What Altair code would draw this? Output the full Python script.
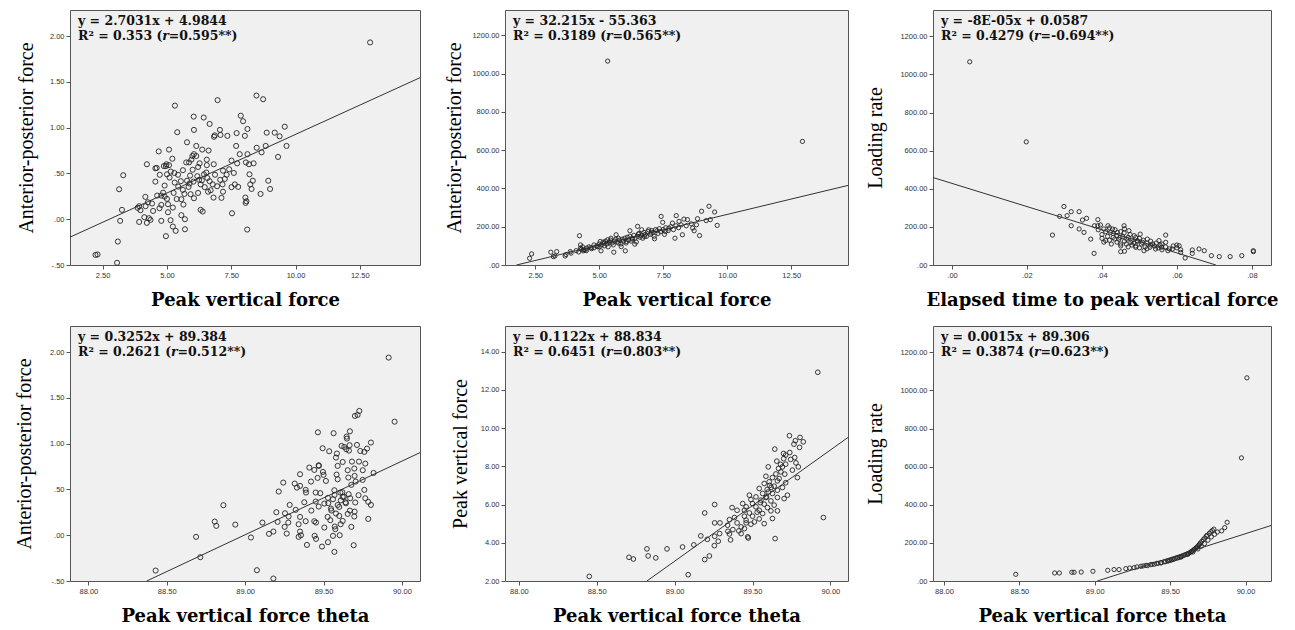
import altair as alt
import pandas as pd

# ---------------- data ----------------
p1_points = [(12.9,1.93),(8.48,1.35),(8.74,1.31),(6.97,1.30),(5.31,1.24),(7.87,1.13),(6.04,1.12),(6.43,1.11),
(7.96,1.07),(6.66,1.04),(9.58,1.01),(8.13,0.985),(7.06,0.975),(6.05,0.975),(5.40,0.95),(8.88,0.945),(9.19,0.945),
(9.38,0.905),(7.08,0.92),(6.86,0.915),(7.35,0.91),(7.71,0.94),(8.03,0.91),(6.83,0.90),(5.78,0.84),(9.65,0.80),
(8.84,0.80),(7.69,0.80),(6.14,0.80),(8.49,0.78),(6.37,0.76),(6.62,0.75),(5.08,0.76),(4.68,0.74),(8.68,0.73),
(8.13,0.71),(7.83,0.71),(6.05,0.71),(5.99,0.69),(6.14,0.69),(9.32,0.68),(5.21,0.66),(5.95,0.65),(6.55,0.65),
(7.51,0.64),(8.07,0.62),(7.73,0.61),(8.37,0.61),(6.82,0.60),(8.19,0.60),(4.22,0.60),(5.86,0.62),(6.27,0.61),
(6.55,0.59),(4.55,0.556),(4.60,0.56),(4.88,0.58),(4.96,0.58),(5.08,0.59),(6.21,0.57),(5.62,0.535),(6.00,0.54),
(7.42,0.545),(7.18,0.53),(8.21,0.49),(7.60,0.505),(6.53,0.51),(5.29,0.505),(5.00,0.49),(4.72,0.485),(3.30,0.48),
(5.43,0.485),(6.44,0.49),(6.87,0.485),(7.32,0.485),(6.18,0.47),(5.90,0.476),(5.10,0.455),(6.57,0.45),(7.07,0.43),
(8.34,0.42),(8.94,0.42),(5.54,0.415),(5.78,0.42),(6.03,0.41),(6.36,0.425),(6.66,0.415),(4.55,0.41),(5.30,0.40),
(5.88,0.39),(6.31,0.38),(6.78,0.38),(7.16,0.38),(7.64,0.38),(8.24,0.38),(4.91,0.367),(5.44,0.356),(5.84,0.353),
(6.47,0.35),(7.51,0.35),(7.77,0.353),(3.14,0.327),(8.29,0.33),(9.01,0.33),(5.62,0.32),(6.70,0.316),(7.18,0.30),
(5.26,0.287),(6.21,0.287),(8.64,0.276),(4.62,0.258),(4.78,0.258),(5.68,0.276),(5.92,0.273),(4.91,0.247),
(4.16,0.244),(7.12,0.233),(6.81,0.236),(6.05,0.229),(8.05,0.236),(5.00,0.222),(5.56,0.218),(8.09,0.196),
(8.06,0.178),(4.26,0.185),(4.42,0.171),(4.78,0.156),(5.04,0.164),(5.64,0.16),(3.92,0.142),(4.17,0.142),
(3.86,0.124),(4.71,0.12),(5.23,0.127),(3.25,0.102),(3.97,0.098),(6.31,0.102),(6.39,0.084),(4.46,0.09),
(5.04,0.076),(7.53,0.065),(5.56,0.044),(4.12,0.022),(4.30,0.011),(5.70,0.0),(3.18,-0.018),(3.92,-0.03),
(4.78,-0.018),(5.14,-0.011),(4.22,-0.04),(4.36,-0.007),(5.23,-0.08),(5.34,-0.127),(5.70,-0.11),(8.12,-0.113),
(4.96,-0.185),(3.09,-0.244),(2.22,-0.39),(2.30,-0.385),(3.06,-0.476),
(4.98,0.60),(5.15,0.52),(5.75,0.62),(6.25,0.43),(6.95,0.36),(7.25,0.44),(4.85,0.29),(5.38,0.22),(6.6,0.30)]
p1_line_x = [1.23, 14.84]
p1_line_y = [-0.196, 1.545]

p2_points = [(5.33,1066),(12.94,646),
(2.28,35),(2.36,58),(3.11,67),(3.34,70),(3.21,44),(3.27,47),(3.67,47),(3.87,70),(4.23,153),(4.27,105),
(4.27,88),(4.38,74),(4.51,88),(4.67,91),(4.80,105),(4.93,96),(5.04,123),(5.07,74),(5.20,114),(5.33,132),
(5.46,140),(5.57,67),(5.66,158),(5.76,114),(5.86,96),(6.02,74),(6.06,123),(6.20,179),(6.29,140),(6.39,109),
(6.50,202),(6.53,161),(6.66,184),(6.77,149),(6.93,184),(7.03,167),(7.16,137),(7.26,179),(7.42,254),(7.48,223),
(7.59,175),(7.72,193),(7.86,219),(7.96,140),(8.01,258),(8.12,228),(8.25,158),(8.31,240),(8.45,237),(8.65,193),
(8.71,179),(8.84,242),(8.92,154),(9.0,281),(9.18,232),(9.29,307),(9.34,237),(9.51,277),(9.61,207),
(3.7,55),(3.9,62),(4.1,75),(4.2,68),(4.3,82),(4.35,95),(4.45,78),
(4.4,80),(4.5,75),(4.6,95),(4.7,85),(4.8,90),(4.9,100),(5.0,95),(5.0,110),(5.1,105),(5.15,120),(5.2,100),
(5.25,125),(5.3,110),(5.35,95),(5.4,120),(5.45,130),(5.5,115),(5.55,105),(5.6,125),(5.65,135),(5.7,120),
(5.75,140),(5.8,130),(5.85,110),(5.9,135),(5.95,125),(6.0,140),(6.05,115),(6.1,145),(6.15,130),(6.2,150),
(6.25,125),(6.3,135),(6.35,155),(6.4,140),(6.45,120),(6.5,150),(6.55,165),(6.6,145),(6.65,155),(6.7,140),
(6.75,170),(6.8,160),(6.85,150),(6.9,175),(7.0,160),(7.05,180),(7.1,170),(7.15,150),(7.2,185),(7.3,165),
(7.35,190),(7.4,175),(7.5,185),(7.55,160),(7.6,195),(7.7,180),(7.8,200),(7.9,185),(8.0,205),(8.1,195),
(8.2,210),(8.4,205),(8.6,215),(8.8,210)]
p2_line_x = [1.77, 14.72]
p2_line_y = [0, 416]

p3_points = [(0.00472,1066),(0.0198,646),
(0.02985,307),(0.0287,255),(0.0307,259),(0.0318,280),(0.0339,280),(0.0318,206),(0.0268,157),(0.0339,189),
(0.0348,236),(0.0359,245),(0.0352,171),(0.0389,238),(0.0389,206),(0.0380,206),(0.037,136),(0.0379,61),
(0.0396,210),(0.0405,189),(0.041,128),(0.0416,206),(0.0423,171),(0.0428,189),(0.0434,136),(0.0441,171),
(0.0448,145),(0.045,110),(0.0459,206),(0.0459,168),(0.0466,136),(0.0472,180),(0.0477,119),(0.0486,154),
(0.0490,93),(0.0494,128),(0.0502,162),(0.0508,119),(0.0512,75),(0.0521,136),(0.0528,93),(0.0535,110),
(0.0543,84),(0.0552,128),(0.0559,93),(0.0570,157),(0.0570,119),(0.0576,75),(0.0588,84),(0.0600,105),
(0.0606,101),(0.061,66),(0.0622,37),(0.0641,79),(0.0641,61),(0.0659,84),(0.0673,75),(0.0692,49),
(0.0713,44),(0.0742,44),(0.0773,49),(0.0804,70),(0.0804,75),(0.045,70),(0.046,72),
(0.039,185),(0.040,160),(0.040,140),(0.0405,120),(0.041,175),(0.0415,150),(0.042,195),(0.042,130),
(0.0425,110),(0.043,165),(0.043,145),(0.0435,185),(0.044,120),(0.044,155),(0.0445,135),(0.045,175),
(0.045,100),(0.0455,150),(0.046,125),(0.046,190),(0.0465,110),(0.047,145),(0.047,95),(0.0475,160),
(0.048,130),(0.048,105),(0.0485,115),(0.049,145),(0.049,100),(0.0495,125),(0.050,90),(0.050,140),
(0.0505,110),(0.051,130),(0.0515,95),(0.052,115),(0.052,85),(0.053,105),(0.053,125),(0.054,100),
(0.0545,115),(0.055,90),(0.0555,105),(0.056,80),(0.056,110),(0.057,95),(0.058,85),(0.059,100),
(0.060,90),(0.061,80)]
p3_line_x = [-0.00508, 0.0704]
p3_line_y = [459, 0]

p4_points = [(89.915,1.94),(89.953,1.24),(89.728,1.357),(89.717,1.314),(89.70,1.303),(89.668,1.135),
(89.464,1.124),(89.564,1.114),(89.647,1.077),(89.649,1.055),(89.802,1.012),(89.615,0.975),(89.666,0.983),
(89.713,0.986),(89.632,0.964),(89.645,0.939),(89.662,0.924),(89.494,0.95),(89.536,0.917),(89.585,0.892),
(89.734,0.92),(89.777,0.946),(89.760,0.91),(89.579,0.848),(89.726,0.804),(89.681,0.804),(89.622,0.80),
(89.766,0.782),(89.590,0.757),(89.469,0.764),(89.47,0.757),(89.409,0.739),(89.441,0.713),(89.696,0.728),
(89.75,0.71),(89.654,0.71),(89.496,0.691),(89.35,0.666),(89.819,0.68),(89.583,0.662),(89.50,0.659),
(89.698,0.648),(89.749,0.604),(89.462,0.626),(89.59,0.611),(89.658,0.63),(89.515,0.593),(89.42,0.586),
(89.705,0.586),(89.243,0.575),(89.677,0.55),(89.316,0.564),(89.35,0.539),(89.33,0.52),(89.386,0.495),
(89.569,0.491),(89.76,0.495),(89.607,0.466),(89.66,0.448),(89.214,0.477),(89.388,0.466),(89.45,0.466),
(89.479,0.459),(89.723,0.437),(89.622,0.418),(89.766,0.404),(89.528,0.408),(89.56,0.393),(89.67,0.404),
(89.785,0.364),(89.45,0.368),(89.377,0.36),(89.702,0.357),(89.505,0.346),(89.643,0.349),(89.802,0.331),
(89.284,0.331),(89.469,0.313),(89.60,0.309),(89.322,0.277),(89.547,0.291),(89.668,0.269),(89.422,0.269),
(89.199,0.251),(89.254,0.24),(89.698,0.258),(89.579,0.237),(89.654,0.233),(89.696,0.204),(89.277,0.204),
(89.526,0.20),(89.60,0.211),(89.35,0.20),(89.785,0.178),(89.543,0.164),(89.622,0.156),(89.386,0.153),
(89.441,0.153),(89.452,0.138),(89.275,0.138),(89.207,0.146),(89.11,0.138),(88.806,0.149),(88.816,0.102),
(88.937,0.116),(88.861,0.328),(89.341,0.12),(89.609,0.12),(89.571,0.095),(89.677,0.091),(89.505,0.084),
(89.252,0.091),(89.575,0.066),(89.35,0.04),(89.18,0.04),(89.152,0.015),(89.265,0.018),(89.603,0.0),
(89.443,-0.007),(89.341,-0.018),(89.356,0.0),(89.56,-0.007),(88.687,-0.018),(89.037,-0.025),(89.452,-0.04),
(89.528,-0.076),(89.394,-0.106),(89.49,-0.124),(89.692,-0.109),(89.569,-0.182),(88.714,-0.24),
(89.075,-0.382),(88.429,-0.386),(89.18,-0.473),
(89.61,0.38),(89.63,0.42),(89.59,0.33),(89.55,0.27),(89.64,0.36),(89.57,0.44),(89.62,0.47),(89.53,0.35)]
p4_line_x = [88.372, 90.115]
p4_line_y = [-0.5, 0.902]

p5_points = [(89.919,12.92),(89.955,5.32),(89.737,9.60),(89.805,9.51),(89.775,9.34),(89.826,9.28),
(89.766,9.16),(89.802,8.99),(89.643,8.90),(89.739,8.72),(89.699,8.67),(89.713,8.59),(89.771,8.46),
(89.779,8.18),(89.745,8.36),(89.656,8.27),(89.713,8.11),(89.794,7.97),(89.601,7.97),(89.667,7.89),
(89.692,7.97),(89.756,7.80),(89.682,7.71),(89.707,7.59),(89.788,7.41),(89.586,7.48),(89.628,7.41),
(89.671,7.36),(89.66,7.24),(89.607,7.19),(89.713,7.14),(89.575,7.10),(89.639,6.96),(89.692,6.89),
(89.543,6.84),(89.594,6.79),(89.66,6.75),(89.724,6.49),(89.703,6.31),(89.601,6.66),(89.565,6.58),
(89.628,6.58),(89.48,6.49),(89.522,6.40),(89.586,6.37),(89.66,6.37),(89.49,6.26),(89.554,6.23),
(89.618,6.19),(89.257,6.0),(89.437,6.05),(89.50,6.05),(89.575,6.02),(89.639,5.97),(89.459,5.88),
(89.522,5.88),(89.596,5.84),(89.369,5.84),(89.448,5.70),(89.543,5.70),(89.618,5.67),(89.401,5.70),
(89.193,5.56),(89.48,5.56),(89.565,5.53),(89.50,5.39),(89.448,5.39),(89.66,5.67),(89.384,5.32),
(89.628,5.27),(89.543,5.25),(89.459,5.18),(89.352,5.21),(89.512,5.09),(89.575,5.0),(89.459,5.04),
(89.257,5.04),(89.291,5.04),(89.401,5.04),(89.49,4.97),(89.34,4.92),(89.427,4.83),(89.374,4.69),
(89.448,4.74),(89.342,4.60),(89.412,4.62),(89.289,4.48),(89.352,4.46),(89.427,4.48),(89.257,4.34),
(89.28,4.08),(89.469,4.31),(89.473,4.25),(89.645,4.22),(89.168,4.36),(89.359,4.15),(89.21,4.18),
(89.255,3.85),(89.123,3.89),(89.051,3.78),(88.951,3.68),(88.822,3.68),(88.83,3.31),(88.879,3.21),
(88.707,3.24),(88.735,3.15),(89.223,3.31),(89.193,3.12),(89.087,2.33),(88.452,2.24),
(89.62,6.9),(89.65,7.6),(89.68,8.1),(89.59,6.4),(89.55,6.1),(89.53,5.6),(89.61,7.0),(89.70,8.4)]
p5_line_x = [88.822, 90.113]
p5_line_y = [2, 9.51]

p6_points = [(90.009,1066),(89.973,646),(89.878,308),(89.862,280),(89.842,263),(88.476,35),(88.734,42),
(88.765,42),(88.848,46),(88.863,46),(88.91,47),(88.988,51),(89.086,56),(89.128,60),(89.161,60),
(89.206,65),(89.232,68),(89.261,70),(89.306,77),(89.35,81),(89.395,88),(89.439,95),(89.484,105),
(89.528,116),(89.573,126),(89.617,140),(89.651,152),(89.684,168),(89.706,182),(89.728,196),(89.751,214),
(89.773,231),(89.795,245),(89.813,257),
(89.28,74),(89.32,79),(89.34,82),(89.37,86),(89.38,87),(89.41,92),(89.42,93),(89.44,96),(89.46,100),
(89.47,102),(89.49,106),(89.50,108),(89.51,111),(89.52,113),(89.54,119),(89.55,121),(89.56,124),
(89.57,127),(89.58,131),(89.59,134),(89.60,138),(89.61,141),(89.62,145),(89.63,149),(89.64,154),
(89.645,157),(89.655,162),(89.66,166),(89.67,172),(89.675,176),(89.68,180),(89.69,188),(89.695,193),
(89.70,199),(89.71,208),(89.72,217),(89.73,226),(89.74,235),(89.745,240),(89.76,250),(89.77,258),
(89.78,265),(89.79,272)]
p6_line_x = [89.017, 90.169]
p6_line_y = [0, 291]

eq_lines = ["y = 2.7031x + 4.9844", "y = 32.215x - 55.363", "y = -8E-05x + 0.0587",
            "y = 0.3252x + 89.384", "y = 0.1122x + 88.834", "y = 0.0015x + 89.306"]
r2_lines = ["R\u00b2 = 0.353 (", "R\u00b2 = 0.3189 (", "R\u00b2 = 0.4279 (",
            "R\u00b2 = 0.2621 (", "R\u00b2 = 0.6451 (", "R\u00b2 = 0.3874 ("]
r_lines = ["=0.595**)", "=0.565**)", "=-0.694**)", "=0.512**)", "=0.803**)", "=0.623**)"]

x_titles = ["Peak vertical force", "Peak vertical force", "Elapsed time to peak vertical force",
            "Peak vertical force theta", "Peak vertical force theta", "Peak vertical force theta"]
y_titles = ["Anterior-posterior force", "Anterior-posterior force", "Loading rate",
            "Anterior-posterior force", "Peak vertical force", "Loading rate"]

pvf_ticks = [2.5, 5.0, 7.5, 10.0, 12.5]
time_ticks = [0.0, 0.02, 0.04, 0.06, 0.08]
theta_ticks = [88.0, 88.5, 89.0, 89.5, 90.0]
apf_ticks = [-0.5, 0.0, 0.5, 1.0, 1.5, 2.0]
lr_ticks = [0, 200, 400, 600, 800, 1000, 1200]
pvf_y_ticks = [2, 4, 6, 8, 10, 12, 14]

# ---------------- helpers ----------------
LABEL_EXPR = ("(datum.value < 0 ? '-' : '') + (abs(datum.value) < 1 ? "
              "substring(format(abs(datum.value), '.2f'), 1) : format(abs(datum.value), '.2f'))")

# approximate advance widths (em) of DejaVu Serif Bold, for placing the italic r
CW = {' ': 0.348, '.': 0.381, '(': 0.473, '=': 0.838, 'R': 0.78, '\u00b2': 0.439}
def text_w(s, fs):
    return sum(CW.get(c, 0.696) for c in s) * fs

FS = 12.5
SERIF = "DejaVu Serif"


def panel(i, pts, lx, ly, xdom, ydom, xticks, yticks, w, h, ytx, size):
    df = pd.DataFrame(pts, columns=["x", "y"])
    ldf = pd.DataFrame({"x": lx, "y": ly})
    xs = alt.Scale(domain=xdom, nice=False, zero=False)
    ys = alt.Scale(domain=ydom, nice=False, zero=False)
    xax = alt.Axis(values=xticks, labelExpr=LABEL_EXPR, title=x_titles[i],
                   titleFont=SERIF, titleFontWeight="bold", titleFontSize=18, titleColor="#000",
                   titleX=w / 2, titleY=40, titleBaseline="alphabetic", titleAlign="center")
    yax = alt.Axis(values=yticks, labelExpr=LABEL_EXPR, title=y_titles[i],
                   titleFont="Liberation Serif", titleFontWeight="normal", titleFontSize=20,
                   titleColor="#000", titleX=ytx, titleY=h / 2, titleAngle=270,
                   titleBaseline="alphabetic", titleAlign="center")
    pts_layer = alt.Chart(df).mark_point(shape="circle", filled=False, size=size,
                                         strokeWidth=0.9, color="#222", opacity=1).encode(
        x=alt.X("x:Q", scale=xs, axis=xax), y=alt.Y("y:Q", scale=ys, axis=yax))
    line_layer = alt.Chart(ldf).mark_line(color="#333", strokeWidth=1, clip=True).encode(
        x=alt.X("x:Q", scale=xs), y=alt.Y("y:Q", scale=ys))
    x0 = 8
    w1 = text_w(r2_lines[i], FS)
    def txt(s, x, y, style="normal"):
        return alt.Chart(pd.DataFrame({"t": [s]})).mark_text(
            font=SERIF, fontWeight="bold", fontStyle=style, fontSize=FS, color="#111",
            align="left", baseline="alphabetic").encode(
            x=alt.value(x), y=alt.value(y), text="t:N")
    layers = [pts_layer, line_layer,
              txt(eq_lines[i], x0, 15),
              txt(r2_lines[i], x0, 30),
              txt("r", x0 + w1, 30, "italic"),
              txt(r_lines[i], x0 + w1 + 6.6, 30)]
    return alt.layer(*layers).properties(width=w, height=h)


H = 255
W1, W2, W3 = 350, 343, 338
c1 = panel(0, p1_points, p1_line_x, p1_line_y, [1.23, 14.84], [-0.5, 2.284], pvf_ticks, apf_ticks, W1, H, -38, 26)
c2 = panel(1, p2_points, p2_line_x, p2_line_y, [1.32, 14.72], [0, 1333], pvf_ticks, lr_ticks, W2, H, -45, 18)
c3 = panel(2, p3_points, p3_line_x, p3_line_y, [-0.00508, 0.0851], [0, 1338], time_ticks, lr_ticks, W3, H, -52, 18)
c4 = panel(3, p4_points, p4_line_x, p4_line_y, [87.883, 90.115], [-0.5, 2.285], theta_ticks, apf_ticks, W1, H, -40, 26)
c5 = panel(4, p5_points, p5_line_x, p5_line_y, [87.911, 90.113], [2, 15.34], theta_ticks, pvf_y_ticks, W2, H, -39, 22)
c6 = panel(5, p6_points, p6_line_x, p6_line_y, [87.927, 90.169], [0, 1338], theta_ticks, lr_ticks, W3, H, -52, 18)

chart = alt.concat(c1, c2, c3, c4, c5, c6, columns=3, bounds="flush",
                   spacing={"row": 61, "column": 85}).properties(
    padding={"left": 5, "top": 1, "right": 5, "bottom": 0},
    background="white",
).configure_view(
    fill="#f0f0f0", stroke="#555555", strokeWidth=1
).configure_axis(
    domain=False, grid=False, ticks=True, tickSize=4, tickColor="#555555",
    labelFont="Liberation Sans", labelFontSize=7.5, labelColor="#333333", labelPadding=2
)

chart.save("out.html", embed_options={"renderer": "svg", "actions": False})
